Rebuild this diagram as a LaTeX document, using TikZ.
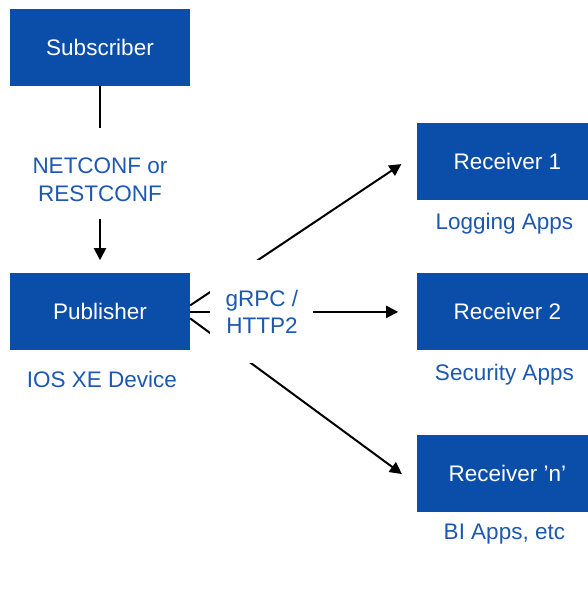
\documentclass[tikz,border=0pt]{standalone}
\usepackage{fontspec}
\setmainfont{Liberation Sans}
\usepackage{xcolor}
\usetikzlibrary{arrows.meta,positioning,calc}
\definecolor{ciscoblue}{HTML}{0B4EA9}
\definecolor{labelblue}{HTML}{1C58B0}

\begin{document}
\begin{tikzpicture}[
      x=1pt, y=-1pt,
      mybox/.style={
         rectangle,
         fill=ciscoblue,
         text=white,
         inner sep=0pt,
         minimum width=180pt,
         minimum height=77pt,
         font=\fontsize{22.5}{27}\selectfont},
      mylabel/.style={
         text=labelblue,
         align=center,
         inner sep=0pt,
         font=\fontsize{22.5}{27.5}\selectfont},
      myarrow/.style={-{Triangle[length=12pt,width=12pt]}, line width=2pt},
      myline/.style={line width=2pt}
      ]
      \useasboundingbox (0,0) rectangle (587,595);

      \node[mybox] (sub) at (100,47.5) {Subscriber};
      \node[mybox,below=187pt of sub] (pub) {Publisher};
      \node[mybox,right=227pt of pub] (rcv2) {Receiver 2};
      \node[mybox,above=73pt of rcv2] (rcv1) {Receiver 1};
      \node[mybox,below=84pt of rcv2] (rcvn) {Receiver 'n'};

      \node[mylabel,below=13pt of rcv1,xshift=-3pt] (logapps) {Logging Apps};
      \node[mylabel,below=13pt of rcv2,xshift=-3pt] (secapps) {Security Apps};
      \node[mylabel,below=12pt of rcvn,xshift=-3pt] (biapps) {BI Apps, etc};
      \node[mylabel,below=20pt of pub,xshift=2pt] (iosxe) {IOS XE Device};

      % subscriber to publisher
      \node[mylabel,inner ysep=17pt] (netconf) at ($(sub.south)!0.5!(pub.north)$) {NETCONF or\\RESTCONF};
      \draw [myline, shorten >=13pt] (sub) -- (netconf);
      \draw [myarrow, shorten >=13pt] (netconf) -- (pub);

      % publisher to receivers, label drawn on top
      \foreach \s/\t/\o in {6.5/rcv1/8, 0/rcv2/0, -6.5/rcvn/-12}
         \draw [myarrow, shorten >=19pt] ([yshift=\s pt]pub.east) -- ([yshift=\o pt]\t.west);

      \node[mylabel,fill=white,minimum width=103pt,minimum height=103pt,right=20pt of pub] (grpc) {gRPC /\\HTTP2};
\end{tikzpicture}
\end{document}
